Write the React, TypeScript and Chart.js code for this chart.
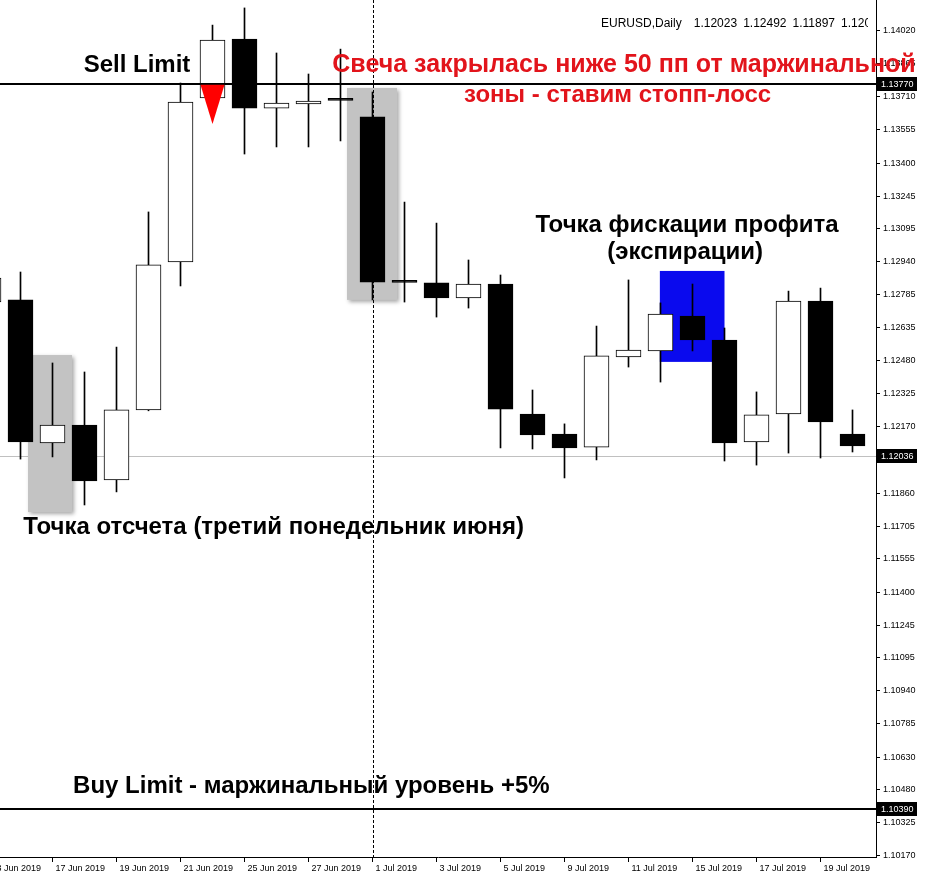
import React, { useEffect, useRef } from "react";
import { Chart, registerables } from "chart.js";

Chart.register(...registerables);

// ---- data ----
const dates = [
  "13 Jun 2019", "14 Jun 2019", "17 Jun 2019", "18 Jun 2019", "19 Jun 2019",
  "20 Jun 2019", "21 Jun 2019", "24 Jun 2019", "25 Jun 2019", "26 Jun 2019",
  "27 Jun 2019", "28 Jun 2019", "1 Jul 2019", "2 Jul 2019", "3 Jul 2019",
  "4 Jul 2019", "5 Jul 2019", "8 Jul 2019", "9 Jul 2019", "10 Jul 2019",
  "11 Jul 2019", "12 Jul 2019", "15 Jul 2019", "16 Jul 2019", "17 Jul 2019",
  "18 Jul 2019", "19 Jul 2019", "22 Jul 2019",
];
const opens = [
  1.12752, 1.12762, 1.12095, 1.12179, 1.11923, 1.12249, 1.12939, 1.13703, 1.13978, 1.13656,
  1.13675, 1.13695, 1.13615, 1.12846, 1.12841, 1.12771, 1.12836, 1.12230, 1.12137, 1.12076,
  1.12496, 1.12524, 1.12687, 1.12575, 1.12100, 1.12230, 1.12757, 1.12137,
];
const highs = [
  1.12892, 1.12892, 1.12468, 1.12426, 1.12542, 1.13172, 1.13773, 1.14043, 1.14123, 1.13913,
  1.13815, 1.13931, 1.13731, 1.13218, 1.13120, 1.12948, 1.12878, 1.12342, 1.12184, 1.12640,
  1.12855, 1.12748, 1.12836, 1.12631, 1.12333, 1.12803, 1.12817, 1.12249,
];
const lows = [
  1.12752, 1.12020, 1.12030, 1.11806, 1.11867, 1.12245, 1.12827, 1.13694, 1.13442, 1.13475,
  1.13475, 1.13503, 1.12762, 1.12752, 1.12682, 1.12724, 1.12072, 1.12067, 1.11932, 1.12016,
  1.12449, 1.12379, 1.12524, 1.12011, 1.11992, 1.12048, 1.12025, 1.12053,
];
const closes = [
  1.12864, 1.12100, 1.12179, 1.11918, 1.12249, 1.12925, 1.13684, 1.13973, 1.13656, 1.13680,
  1.13689, 1.13692, 1.12845, 1.12844, 1.12771, 1.12836, 1.12253, 1.12132, 1.12072, 1.12501,
  1.12528, 1.12696, 1.12575, 1.12095, 1.12226, 1.12757, 1.12193, 1.12081,
];
const xLabelIdx = [0, 2, 4, 6, 8, 10, 12, 14, 16, 18, 20, 22, 24, 26];
const yTicks = [
  1.1402, 1.13865, 1.1371, 1.13555, 1.134, 1.13245, 1.13095, 1.1294, 1.12785, 1.12635,
  1.1248, 1.12325, 1.1217, 1.12015, 1.1186, 1.11705, 1.11555, 1.114, 1.11245, 1.11095,
  1.1094, 1.10785, 1.1063, 1.1048, 1.10325, 1.1017,
];
const sellLimit = 1.1377;
const buyLimit = 1.1039;
const bidPrice = 1.12036;
const markedCandle = 12;
const headerText = "EURUSD,Daily  1.12023 1.12492 1.11897 1.12036";

const greyBoxes = [
  { x0: 1.234, x1: 2.609, top: 1.12505, bottom: 1.11773 },
  { x0: 11.203, x1: 12.766, top: 1.1375, bottom: 1.12762 },
];
const blueBox = { x0: 20.98, x1: 23.0, top: 1.12897, bottom: 1.12473 };
const arrow = { x: 7, half: 0.375, top: 1.1377, tip: 1.13582 };

const RED = "#e2141b";
const notes = [
  { text: "Sell Limit", x: 4.64, y: 1.13824, color: "#000", size: 24 },
  { text: "Свеча закрылась ниже 50 пп от маржинальной", x: 19.86, y: 1.13824, color: RED, size: 25 },
  { text: "зоны - ставим стопп-лосс", x: 19.66, y: 1.13685, color: RED, size: 24 },
  { text: "Точка фискации профита", x: 21.83, y: 1.13079, color: "#000", size: 24 },
  { text: "(экспирации)", x: 21.77, y: 1.12953, color: "#000", size: 24 },
  { text: "Точка отсчета (третий понедельник июня)", x: 8.91, y: 1.11671, color: "#000", size: 24 },
  { text: "Buy Limit - маржинальный уровень +5%", x: 10.09, y: 1.10463, color: "#000", size: 24 },
];
const header = { x: 19.14, y: 1.14034 };

const X_MIN = 0.359375;
const X_MAX = 27.734375;
const Y_MIN = 1.10165;
const Y_MAX = 1.1416;

const TICK_FONT = "'Liberation Sans', Arial, sans-serif";

const zeroPad = (s: any) => {
  s.paddingLeft = 0;
  s.paddingRight = 0;
  s.paddingTop = 0;
  s.paddingBottom = 0;
};

const overlay = {
  id: "overlay",
  beforeDatasetsDraw(chart: any) {
    const { ctx, chartArea: ca, scales } = chart;
    const x = scales.x, y = scales.y;
    ctx.save();
    ctx.beginPath();
    ctx.rect(ca.left, ca.top, ca.right - ca.left, ca.bottom - ca.top);
    ctx.clip();
    // bid line
    const yb = Math.round(y.getPixelForValue(bidPrice)) + 0.5;
    ctx.strokeStyle = "#c0c0c0";
    ctx.lineWidth = 1;
    ctx.beginPath();
    ctx.moveTo(ca.left, yb);
    ctx.lineTo(ca.right, yb);
    ctx.stroke();
    // grey boxes
    for (const b of greyBoxes) {
      const l = x.getPixelForValue(b.x0), r = x.getPixelForValue(b.x1);
      const t = y.getPixelForValue(b.top), bt = y.getPixelForValue(b.bottom);
      ctx.save();
      ctx.shadowColor = "rgba(0,0,0,0.35)";
      ctx.shadowBlur = 4;
      ctx.shadowOffsetX = 2;
      ctx.shadowOffsetY = 2;
      ctx.fillStyle = "#c3c3c3";
      ctx.fillRect(l, t, r - l, bt - t);
      ctx.restore();
    }
    // blue box
    {
      const l = x.getPixelForValue(blueBox.x0), r = x.getPixelForValue(blueBox.x1);
      const t = y.getPixelForValue(blueBox.top), bt = y.getPixelForValue(blueBox.bottom);
      ctx.fillStyle = "#0a0aee";
      ctx.fillRect(l, t, r - l, bt - t);
    }
    // dotted vertical line
    const xv = Math.round(x.getPixelForValue(markedCandle)) + 0.5;
    ctx.strokeStyle = "#000";
    ctx.lineWidth = 1;
    ctx.setLineDash([3, 2]);
    ctx.beginPath();
    ctx.moveTo(xv, ca.top);
    ctx.lineTo(xv, ca.bottom);
    ctx.stroke();
    ctx.setLineDash([]);
    ctx.restore();
  },
  afterDatasetsDraw(chart: any) {
    const { ctx, chartArea: ca, scales } = chart;
    const x = scales.x, y = scales.y;
    ctx.save();
    ctx.strokeStyle = "#000";
    ctx.lineWidth = 2;
    for (const lv of [sellLimit, buyLimit]) {
      const yy = Math.round(y.getPixelForValue(lv));
      ctx.beginPath();
      ctx.moveTo(ca.left, yy);
      ctx.lineTo(ca.right, yy);
      ctx.stroke();
    }
    // red arrow
    const ax = x.getPixelForValue(arrow.x);
    const hw = x.getPixelForValue(arrow.x + arrow.half) - ax;
    const at = y.getPixelForValue(arrow.top) + 1;
    const ab = y.getPixelForValue(arrow.tip);
    ctx.fillStyle = "#ff0000";
    ctx.beginPath();
    ctx.moveTo(ax - hw, at);
    ctx.lineTo(ax + hw, at);
    ctx.lineTo(ax, ab);
    ctx.closePath();
    ctx.fill();
    ctx.restore();
  },
  afterDraw(chart: any) {
    const { ctx, chartArea: ca, scales } = chart;
    const x = scales.x, y = scales.y;
    ctx.save();
    // price boxes on the axis
    ctx.font = `9px ${TICK_FONT}`;
    ctx.textBaseline = "middle";
    ctx.textAlign = "left";
    for (const lv of [sellLimit, bidPrice, buyLimit]) {
      const yy = Math.round(y.getPixelForValue(lv));
      ctx.fillStyle = "#000";
      ctx.fillRect(ca.right + 1, yy - 7, 40, 14);
      ctx.fillStyle = "#fff";
      ctx.fillText(lv.toFixed(5), ca.right + 5, yy + 0.5);
    }
    // header
    ctx.save();
    ctx.beginPath();
    ctx.rect(ca.left, ca.top, 868 - ca.left, 40);
    ctx.clip();
    ctx.font = "12px 'Liberation Sans', Arial, sans-serif";
    try {
      (ctx as any).wordSpacing = "2.7px";
    } catch (e) {
      /* ignore */
    }
    ctx.fillStyle = "#000";
    ctx.textBaseline = "alphabetic";
    ctx.fillText(headerText, x.getPixelForValue(header.x), y.getPixelForValue(header.y));
    ctx.restore();
    // notes
    ctx.textAlign = "center";
    ctx.textBaseline = "alphabetic";
    for (const n of notes) {
      ctx.font = `bold ${n.size}px 'Liberation Sans', Arial, sans-serif`;
      ctx.fillStyle = n.color;
      ctx.fillText(n.text, x.getPixelForValue(n.x), y.getPixelForValue(n.y));
    }
    ctx.restore();
  },
};

export default function App() {
  const ref = useRef<HTMLCanvasElement | null>(null);
  useEffect(() => {
    document.body.style.margin = "0";
    const canvas = ref.current;
    if (!canvas) return;
    const isUp = opens.map((o, i) => closes[i] >= o);
    const chart = new Chart(canvas, {
      type: "bar",
      data: {
        datasets: [
          {
            label: "body",
            data: opens.map((o, i) => ({ x: i, y: [o, closes[i]] })) as any,
            backgroundColor: isUp.map((u) => (u ? "#ffffff" : "#000000")),
            borderColor: "#000000",
            borderWidth: 1,
            borderSkipped: false,
            barThickness: 25,
            minBarLength: 2,
            grouped: false,
            order: 0,
          } as any,
          {
            label: "wick",
            data: highs.map((h, i) => ({ x: i, y: [lows[i], h] })) as any,
            backgroundColor: "#000000",
            borderWidth: 0,
            barThickness: 1,
            grouped: false,
            order: 1,
          } as any,
        ],
      },
      options: {
        responsive: false,
        animation: false,
        devicePixelRatio: 1,
        events: [],
        layout: { padding: 0 },
        plugins: { legend: { display: false }, tooltip: { enabled: false } },
        scales: {
          x: {
            type: "linear",
            position: "bottom",
            min: X_MIN,
            max: X_MAX,
            offset: false,
            grid: { display: true, drawOnChartArea: false, drawTicks: true, tickLength: 5, color: "#000", offset: false },
            border: { display: true, color: "#000", width: 1 },
            ticks: {
              autoSkip: false,
              maxRotation: 0,
              minRotation: 0,
              align: "start",
              labelOffset: 3,
              padding: 1,
              color: "#000",
              font: { size: 9, family: TICK_FONT },
              callback: (v: any) => dates[Math.round(Number(v))] ?? "",
            },
            afterBuildTicks: (s: any) => {
              s.ticks = xLabelIdx.map((v) => ({ value: v }));
            },
            afterFit: (s: any) => {
              s.height = 22;
              zeroPad(s);
            },
          } as any,
          y: {
            type: "linear",
            position: "right",
            min: Y_MIN,
            max: Y_MAX,
            grid: { display: true, drawOnChartArea: false, drawTicks: true, tickLength: 4, color: "#000" },
            border: { display: true, color: "#000", width: 1 },
            ticks: {
              padding: 3,
              color: "#000",
              font: { size: 9, family: TICK_FONT },
              callback: (v: any) => Number(v).toFixed(5),
            },
            afterBuildTicks: (s: any) => {
              s.ticks = yTicks.map((v) => ({ value: v }));
            },
            afterFit: (s: any) => {
              s.width = 49;
              zeroPad(s);
            },
          } as any,
        },
      },
      plugins: [overlay],
    });
    return () => chart.destroy();
  }, []);
  return <canvas ref={ref} width={925} height={879} style={{ display: "block" }} />;
}
